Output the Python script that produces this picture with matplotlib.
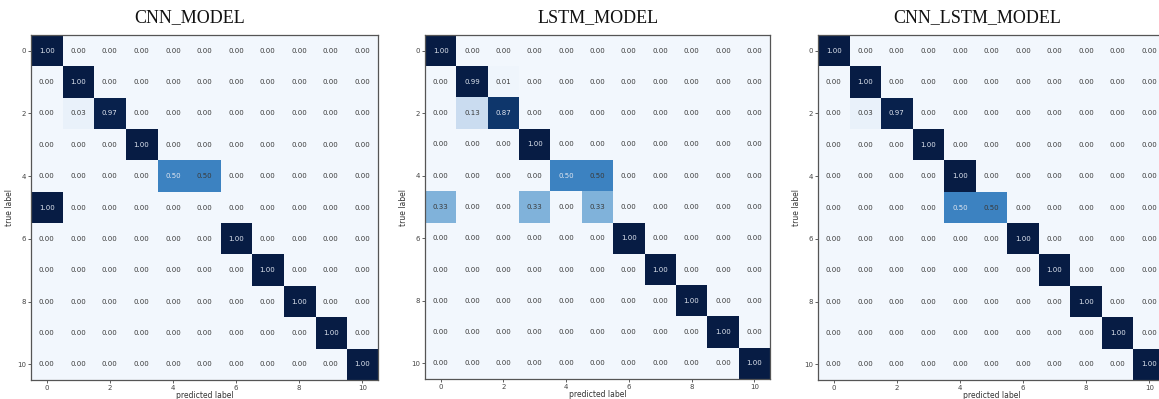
import numpy as np
import matplotlib
matplotlib.use("Agg")
import matplotlib.pyplot as plt
from matplotlib.colors import LinearSegmentedColormap

n_classes = 11
tick_values = [0, 2, 4, 6, 8, 10]
model_names = ["CNN_MODEL", "LSTM_MODEL", "CNN_LSTM_MODEL"]

# off-diagonal / non-unit rows of each normalised confusion matrix: (row, col, value)
cnn_cells = [(2, 1, 0.03), (2, 2, 0.97), (4, 4, 0.50), (4, 5, 0.50), (5, 0, 1.00)]
lstm_cells = [(1, 1, 0.99), (1, 2, 0.01), (2, 1, 0.13), (2, 2, 0.87),
              (4, 4, 0.50), (4, 5, 0.50),
              (5, 0, 0.33), (5, 3, 0.33), (5, 5, 0.33)]
cnn_lstm_cells = [(2, 1, 0.03), (2, 2, 0.97), (4, 4, 1.00),
                  (5, 4, 0.50), (5, 5, 0.50)]
rows_overridden = [[2, 4, 5], [1, 2, 4, 5], [2, 4, 5]]

# tied 0.50 cells whose label is drawn light
light_text_cells = [[(4, 4)], [(4, 4)], [(5, 4)]]


def build_matrix(cells, rows):
    m = np.eye(n_classes)
    for r in rows:
        m[r, :] = 0.0
    for r, c, v in cells:
        m[r, c] = v
    return m


matrices = [build_matrix(c, r) for c, r in
            zip([cnn_cells, lstm_cells, cnn_lstm_cells], rows_overridden)]

# a deeper variant of the Blues ramp
blues_deep = LinearSegmentedColormap.from_list(
    "blues_deep",
    [(0.0, "#f2f7fd"), (0.13, "#cadcf0"), (0.33, "#80b2da"),
     (0.5, "#3d83c2"), (0.75, "#154f91"), (1.0, "#071c44")])

W, H = 1159, 399
fig = plt.figure(figsize=(W / 100, H / 100), dpi=100)

# axes boxes in pixels: left, top, right, bottom
boxes = [(31, 35, 378, 380), (425, 35, 770, 379), (818, 35, 1165, 380)]
title_x = [190, 598, 977]

frame_col = "#555555"
for k, (mat, box) in enumerate(zip(matrices, boxes)):
    l, t, r, b = box
    ax = fig.add_axes([l / W, 1 - b / H, (r - l) / W, (b - t) / H])
    ax.imshow(mat, cmap=blues_deep, vmin=0, vmax=1, aspect="auto",
              interpolation="nearest")
    for i in range(n_classes):
        for j in range(n_classes):
            v = mat[i, j]
            light = v > 0.5 or (i, j) in light_text_cells[k]
            ax.text(j, i, f"{v:.2f}", ha="center", va="center",
                    fontsize=5, color="#dfe5ef" if light else "#3a3a3a")
    ax.set_xticks(tick_values)
    ax.set_yticks(tick_values)
    ax.tick_params(labelsize=5, length=2, width=0.6, pad=1.5,
                   colors="#444444")
    ax.set_xlabel("predicted label", fontsize=5.5, color="#333333",
                  labelpad=0)
    ax.set_ylabel("true label", fontsize=5.5, color="#333333", labelpad=2)
    for sp in ax.spines.values():
        sp.set_color(frame_col)
        sp.set_linewidth(0.9)
    fig.text(title_x[k] / W, 1 - 18 / H, model_names[k], ha="center",
             va="center", fontsize=13, family="Liberation Serif",
             color="#111111")

fig.savefig("out.png", dpi=100)
